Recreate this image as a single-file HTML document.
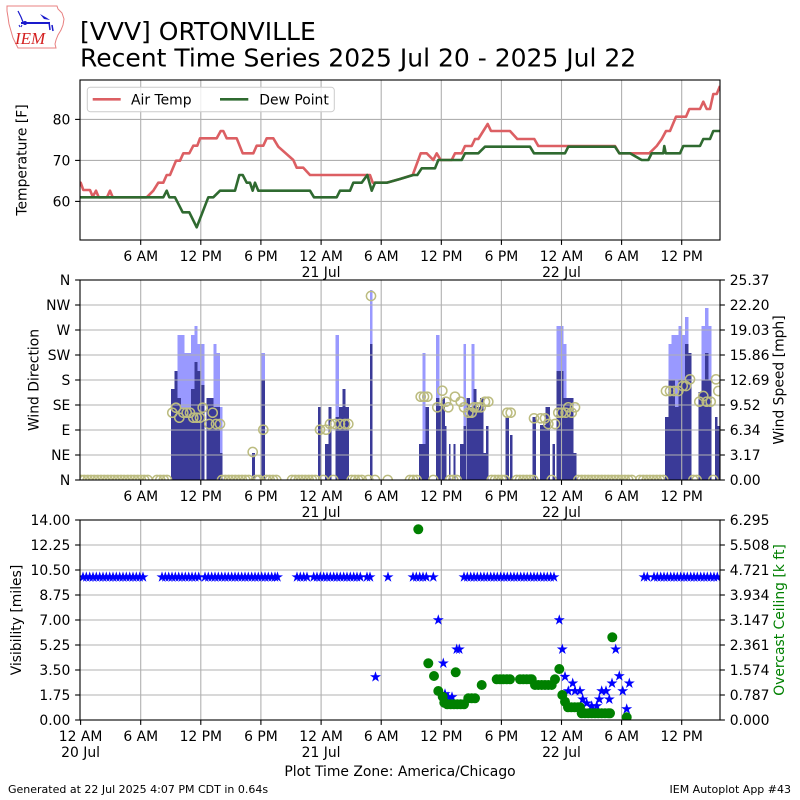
<!DOCTYPE html>
<html>
<head>
<meta charset="utf-8">
<style>
html,body{margin:0;padding:0;background:#fff;}
svg{display:block;}
text{font-family:"DejaVu Sans","Liberation Sans",sans-serif;fill:#000;}
</style>
</head>
<body>
<svg width="800" height="800" viewBox="0 0 800 800" xmlns="http://www.w3.org/2000/svg">
<defs>
  <clipPath id="c1"><rect x="80" y="80" width="640" height="160"/></clipPath>
  <clipPath id="c2"><rect x="80" y="280" width="640" height="200"/></clipPath>
  <clipPath id="c3"><rect x="80" y="520" width="640" height="200"/></clipPath>
  <path id="st" d="M0,-4.8 L1.08,-1.48 L4.56,-1.48 L1.74,0.57 L2.82,3.88 L0,1.83 L-2.82,3.88 L-1.74,0.57 L-4.56,-1.48 L-1.08,-1.48Z" fill="#0000ff" stroke="#0000ff" stroke-width="0.6"/>
  <circle id="oc" r="4.6" fill="none" stroke="#bcbc80" stroke-width="1.5"/>
  <circle id="gc" r="5" fill="#008000"/>
</defs>
<rect width="800" height="800" fill="#fff"/>

<!-- Logo -->
<g>
  <path d="M7,6 L57,6 L58,9 L62,13 L64,19 L63,25 L61,30 L58,35 L56,40 L55,44 L56,48 L18,48 L16,44 L13,38 L11,31 L9,24 L8,17 L7,11Z" fill="none" stroke="#e88080" stroke-width="1"/>
  <line x1="21" y1="23" x2="50" y2="23" stroke="#1a1acc" stroke-width="2"/>
  <circle cx="25" cy="23" r="2" fill="#1a1acc"/>
  <path d="M18,11 L21,17 L23,22" stroke="#1a1acc" stroke-width="1.2" fill="none"/>
  <path d="M40,14 L47,18 L50,20 L44,19Z" fill="#1a1acc"/>
  <path d="M49,22 L50,30 M52,25 L53,31" stroke="#1a1acc" stroke-width="1.5"/>
  <path d="M19,25 L20,27 M22,25 L21,27" stroke="#1a1acc" stroke-width="1"/>
  <text x="15" y="44" font-family="Liberation Serif, serif" font-style="italic" font-size="17" fill="#d42020" style="font-family:'Liberation Serif',serif;fill:#d42020">IEM</text>
</g>

<!-- Titles -->
<text x="80" y="40" font-size="25">[VVV] ORTONVILLE</text>
<text x="80" y="66.7" font-size="25">Recent Time Series 2025 Jul 20 - 2025 Jul 22</text>

<!-- ================= PANEL 1 ================= -->
<g stroke="#b0b0b0" stroke-width="1.1">
  <line x1="80" y1="119.4" x2="720" y2="119.4"/>
  <line x1="80" y1="160.4" x2="720" y2="160.4"/>
  <line x1="80" y1="201.4" x2="720" y2="201.4"/>
  <line x1="140.7" y1="80" x2="140.7" y2="240"/>
  <line x1="200.8" y1="80" x2="200.8" y2="240"/>
  <line x1="260.9" y1="80" x2="260.9" y2="240"/>
  <line x1="321.1" y1="80" x2="321.1" y2="240"/>
  <line x1="381.2" y1="80" x2="381.2" y2="240"/>
  <line x1="441.3" y1="80" x2="441.3" y2="240"/>
  <line x1="501.4" y1="80" x2="501.4" y2="240"/>
  <line x1="561.5" y1="80" x2="561.5" y2="240"/>
  <line x1="621.6" y1="80" x2="621.6" y2="240"/>
  <line x1="681.7" y1="80" x2="681.7" y2="240"/>
</g>
<g clip-path="url(#c1)" fill="none" stroke-width="2.6" stroke-linejoin="round">
  <polyline stroke="#dc5f63" points="80,182.7 80.7,182.7 83.3,190 90,190 92.7,196.7 96,190.7 98.7,197.3 107,197.3 110,190.7 112.7,197.3 146.7,197.3 153.3,190.7 158.3,182.7 163.3,182.7 166.7,175 170,175 176,160.7 180,160.7 183.3,153.3 189.3,153.3 193.3,145.7 197.3,145.7 200,138.3 216.7,138.3 220.7,131 223.3,131 226.7,138.3 236.7,138.3 242.7,153.3 253.3,153.3 256.7,145.7 263.3,145.7 266.7,138.3 273.3,138.3 278.3,146.7 293.3,160 296.7,167.7 303.3,167.7 310,175 370,175 372.7,182.7 386.7,182.7 400,179 412.7,175 420.7,153.3 426.7,153.3 433.3,160 436.7,153.3 440.7,160 451.7,160 455,153.3 461.7,153.3 465,146 471.7,146 475,139 478.3,139 483.3,131 487.7,124 491,131 510,131 517.3,139 534.3,139 538.3,146 615,146 619.3,153.3 649.3,153.3 656.7,146 661.7,139 666,131 670,131 676,116.7 686,116.7 689.3,109 700,109 703.3,101.7 706.7,109 710,109 713.3,94 716.7,94 720,86"/>
  <polyline stroke="#2f6a30" points="80,197.3 163.3,197.3 166.7,190.7 169.3,197.3 175,197.3 182.7,212.3 189.3,212.3 196.7,227.3 208.3,197.3 213.3,197.3 220,190.7 235,190.7 239.3,175 242.7,175 246.7,182.7 250,182.7 252.7,190.7 255,182.7 258.3,190.7 310,190.7 314,197.3 336.7,197.3 340,190.7 350,190.7 353.3,182.7 361.7,182.7 367.3,175 371.7,190.7 375,182.7 386.7,182.7 400,179 413.3,175 417.3,175 421.7,168.3 435,168.3 438.3,160 461.7,160 465,153.3 478.3,153.3 485,146.7 530,146.7 534,153.3 565,153.3 568.3,146.7 615,146.7 619.3,153.3 630,153.3 641.7,160 648.3,160 651.7,153.3 663.3,153.3 664.3,146 665.7,153.3 680,153.3 683.3,146 700,146 703.3,139 710,139 713.3,131 720,131"/>
</g>
<rect x="80" y="80" width="640" height="160" fill="none" stroke="#000" stroke-width="1.1"/>
<!-- legend -->
<rect x="87.3" y="87.3" width="247" height="24.4" rx="3" fill="#fff" fill-opacity="0.8" stroke="#cccccc" stroke-width="1"/>
<line x1="92.7" y1="99.3" x2="120.7" y2="99.3" stroke="#dc5f63" stroke-width="2.6"/>
<text x="131" y="104.3" font-size="13.9">Air Temp</text>
<line x1="220" y1="99.3" x2="248.3" y2="99.3" stroke="#2f6a30" stroke-width="2.6"/>
<text x="259.3" y="104.3" font-size="13.9">Dew Point</text>
<!-- ticks -->
<g stroke="#000" stroke-width="1.1">
  <line x1="75.1" y1="119.4" x2="80" y2="119.4"/>
  <line x1="75.1" y1="160.4" x2="80" y2="160.4"/>
  <line x1="75.1" y1="201.4" x2="80" y2="201.4"/>
  <line x1="140.7" y1="240" x2="140.7" y2="244.9"/>
  <line x1="200.8" y1="240" x2="200.8" y2="244.9"/>
  <line x1="260.9" y1="240" x2="260.9" y2="244.9"/>
  <line x1="321.1" y1="240" x2="321.1" y2="244.9"/>
  <line x1="381.2" y1="240" x2="381.2" y2="244.9"/>
  <line x1="441.3" y1="240" x2="441.3" y2="244.9"/>
  <line x1="501.4" y1="240" x2="501.4" y2="244.9"/>
  <line x1="561.5" y1="240" x2="561.5" y2="244.9"/>
  <line x1="621.6" y1="240" x2="621.6" y2="244.9"/>
  <line x1="681.7" y1="240" x2="681.7" y2="244.9"/>
</g>
<g font-size="13.9" text-anchor="end">
  <text x="70.3" y="124.4">80</text>
  <text x="70.3" y="165.4">70</text>
  <text x="70.3" y="206.4">60</text>
</g>
<g font-size="13.9" text-anchor="middle">
  <text x="140.7" y="261">6 AM</text>
  <text x="200.8" y="261">12 PM</text>
  <text x="260.9" y="261">6 PM</text>
  <text x="321.1" y="261">12 AM</text>
  <text x="321.1" y="277">21 Jul</text>
  <text x="381.2" y="261">6 AM</text>
  <text x="441.3" y="261">12 PM</text>
  <text x="501.4" y="261">6 PM</text>
  <text x="561.5" y="261">12 AM</text>
  <text x="561.5" y="277">22 Jul</text>
  <text x="621.6" y="261">6 AM</text>
  <text x="681.7" y="261">12 PM</text>
</g>
<text transform="translate(26.5,160) rotate(-90)" font-size="13.9" text-anchor="middle">Temperature [F]</text>

<!-- ================= PANEL 2 ================= -->
<g clip-path="url(#c2)">
<g fill="#9999ff" shape-rendering="crispEdges">
  <rect x="177.7" y="335" width="3.4" height="145"/>
  <rect x="181" y="335" width="3.4" height="145"/>
  <rect x="184.3" y="353" width="3.4" height="127"/>
  <rect x="187.7" y="353" width="3.4" height="127"/>
  <rect x="191" y="335" width="3.4" height="145"/>
  <rect x="194.3" y="326" width="3.4" height="154"/>
  <rect x="197.7" y="344" width="3.4" height="136"/>
  <rect x="201" y="344" width="3.3" height="136"/>
  <rect x="213.3" y="344" width="3.4" height="136"/>
  <rect x="216.7" y="353" width="3.4" height="127"/>
  <rect x="220" y="407" width="2.7" height="73"/>
  <rect x="261.7" y="353" width="3.3" height="127"/>
  <rect x="335.7" y="335" width="3.3" height="145"/>
  <rect x="370" y="290" width="2.7" height="190"/>
  <rect x="422.3" y="353" width="3.4" height="127"/>
  <rect x="436" y="335" width="3.3" height="145"/>
  <rect x="463.3" y="344" width="2.5" height="136"/>
  <rect x="471.7" y="344" width="2.6" height="136"/>
  <rect x="556.7" y="326" width="6.7" height="154"/>
  <rect x="563.3" y="344" width="3.4" height="136"/>
  <rect x="668.3" y="344" width="3.4" height="136"/>
  <rect x="671.7" y="335" width="3.4" height="145"/>
  <rect x="675" y="335" width="3.4" height="145"/>
  <rect x="678.3" y="326" width="3.4" height="154"/>
  <rect x="681.7" y="335" width="3.4" height="145"/>
  <rect x="685" y="317" width="3.4" height="163"/>
  <rect x="701.7" y="326" width="3.4" height="154"/>
  <rect x="705" y="308" width="3.4" height="172"/>
  <rect x="708.3" y="326" width="3.4" height="154"/>
</g>
<g fill="#3a3a98" shape-rendering="crispEdges">
  <rect x="171" y="389" width="3.4" height="91"/>
  <rect x="174.3" y="371" width="3.4" height="109"/>
  <rect x="177.7" y="398" width="3.4" height="82"/>
  <rect x="181" y="408" width="3.4" height="72"/>
  <rect x="184.3" y="408" width="3.4" height="72"/>
  <rect x="187.7" y="408" width="3.4" height="72"/>
  <rect x="191" y="389" width="3.4" height="91"/>
  <rect x="194.3" y="362" width="3.4" height="118"/>
  <rect x="197.7" y="371" width="3.4" height="109"/>
  <rect x="201" y="385" width="3.3" height="95"/>
  <rect x="206.7" y="398" width="3.4" height="82"/>
  <rect x="210" y="398" width="3.4" height="82"/>
  <rect x="213.3" y="407" width="3.4" height="73"/>
  <rect x="216.7" y="407" width="3.4" height="73"/>
  <rect x="220" y="453" width="2.7" height="27"/>
  <rect x="252" y="453" width="3" height="27"/>
  <rect x="261.7" y="380" width="3.3" height="100"/>
  <rect x="318" y="407" width="3.3" height="73"/>
  <rect x="325" y="444" width="3.4" height="36"/>
  <rect x="328.3" y="407" width="3.4" height="73"/>
  <rect x="335.7" y="417" width="3.4" height="63"/>
  <rect x="339" y="407" width="3.4" height="73"/>
  <rect x="342.3" y="389" width="3.4" height="91"/>
  <rect x="345.7" y="407" width="3.3" height="73"/>
  <rect x="370" y="344" width="2.7" height="136"/>
  <rect x="419" y="444" width="3.4" height="36"/>
  <rect x="422.3" y="444" width="3.4" height="36"/>
  <rect x="425.7" y="407" width="3.3" height="73"/>
  <rect x="436" y="398" width="3.4" height="82"/>
  <rect x="439.3" y="406" width="3.4" height="74"/>
  <rect x="442.7" y="398" width="2.4" height="82"/>
  <rect x="445" y="426" width="1.7" height="54"/>
  <rect x="449" y="444" width="1.7" height="36"/>
  <rect x="453.3" y="444" width="2.4" height="36"/>
  <rect x="460" y="444" width="3.4" height="36"/>
  <rect x="463.3" y="426" width="2.5" height="54"/>
  <rect x="466.7" y="398" width="3.4" height="82"/>
  <rect x="470" y="407" width="1.8" height="73"/>
  <rect x="471.7" y="417" width="1.7" height="63"/>
  <rect x="473.3" y="389" width="3.4" height="91"/>
  <rect x="476.7" y="407" width="3.4" height="73"/>
  <rect x="480" y="398" width="3.4" height="82"/>
  <rect x="483.3" y="453" width="2.8" height="27"/>
  <rect x="486" y="426" width="2.7" height="54"/>
  <rect x="505.7" y="417" width="3.3" height="63"/>
  <rect x="510" y="435" width="2.3" height="45"/>
  <rect x="532.7" y="417" width="3.3" height="63"/>
  <rect x="540" y="425" width="5.8" height="55"/>
  <rect x="545.7" y="407" width="4.3" height="73"/>
  <rect x="552.7" y="444" width="2.3" height="36"/>
  <rect x="556.7" y="371" width="3.4" height="109"/>
  <rect x="560" y="371" width="3.4" height="109"/>
  <rect x="563.3" y="398" width="3.4" height="82"/>
  <rect x="566.7" y="398" width="3.4" height="82"/>
  <rect x="570" y="398" width="3.4" height="82"/>
  <rect x="573.3" y="453" width="3.4" height="27"/>
  <rect x="665" y="417" width="3.4" height="63"/>
  <rect x="668.3" y="380" width="3.4" height="100"/>
  <rect x="671.7" y="380" width="3.4" height="100"/>
  <rect x="675" y="407" width="3.4" height="73"/>
  <rect x="678.3" y="380" width="3.4" height="100"/>
  <rect x="681.7" y="380" width="3.4" height="100"/>
  <rect x="685" y="344" width="3.4" height="136"/>
  <rect x="688.3" y="353" width="3.4" height="127"/>
  <rect x="698.3" y="392" width="3.4" height="88"/>
  <rect x="701.7" y="380" width="3.4" height="100"/>
  <rect x="705" y="353" width="3.4" height="127"/>
  <rect x="708.3" y="380" width="3.4" height="100"/>
  <rect x="715" y="417" width="2.4" height="63"/>
  <rect x="717.3" y="426" width="2.7" height="54"/>
</g>
</g>
<g stroke="#b0b0b0" stroke-width="1.1">
  <line x1="80" y1="305" x2="720" y2="305"/>
  <line x1="80" y1="330" x2="720" y2="330"/>
  <line x1="80" y1="355" x2="720" y2="355"/>
  <line x1="80" y1="380" x2="720" y2="380"/>
  <line x1="80" y1="405" x2="720" y2="405"/>
  <line x1="80" y1="430" x2="720" y2="430"/>
  <line x1="80" y1="455" x2="720" y2="455"/>
  <line x1="140.7" y1="280" x2="140.7" y2="480"/>
  <line x1="200.8" y1="280" x2="200.8" y2="480"/>
  <line x1="260.9" y1="280" x2="260.9" y2="480"/>
  <line x1="321.1" y1="280" x2="321.1" y2="480"/>
  <line x1="381.2" y1="280" x2="381.2" y2="480"/>
  <line x1="441.3" y1="280" x2="441.3" y2="480"/>
  <line x1="501.4" y1="280" x2="501.4" y2="480"/>
  <line x1="561.5" y1="280" x2="561.5" y2="480"/>
  <line x1="621.6" y1="280" x2="621.6" y2="480"/>
  <line x1="681.7" y1="280" x2="681.7" y2="480"/>
</g>
<g clip-path="url(#c2)">
  <!-- non-zero direction -->
  <use href="#oc" x="172.3" y="412.7"/><use href="#oc" x="176" y="407.7"/><use href="#oc" x="179.3" y="417.7"/>
  <use href="#oc" x="183.3" y="412.7"/><use href="#oc" x="186.7" y="412.7"/><use href="#oc" x="190" y="412.7"/>
  <use href="#oc" x="193.3" y="417.7"/><use href="#oc" x="196.7" y="417.7"/><use href="#oc" x="200" y="417.7"/>
  <use href="#oc" x="202.7" y="407.7"/><use href="#oc" x="209.3" y="424"/><use href="#oc" x="212.7" y="412.7"/>
  <use href="#oc" x="216" y="424"/><use href="#oc" x="220" y="424"/><use href="#oc" x="252.7" y="452"/>
  <use href="#oc" x="263.3" y="429.7"/><use href="#oc" x="320" y="429.7"/><use href="#oc" x="326" y="429.7"/>
  <use href="#oc" x="330" y="424"/><use href="#oc" x="335" y="424"/><use href="#oc" x="340" y="424"/>
  <use href="#oc" x="345" y="424"/><use href="#oc" x="348.3" y="424"/><use href="#oc" x="371" y="296"/>
  <use href="#oc" x="420.7" y="396.7"/><use href="#oc" x="424" y="396.7"/><use href="#oc" x="427.3" y="396.7"/>
  <use href="#oc" x="437.3" y="407.3"/><use href="#oc" x="442.3" y="390.7"/><use href="#oc" x="446" y="401.7"/>
  <use href="#oc" x="448.3" y="407.3"/><use href="#oc" x="455" y="396.7"/><use href="#oc" x="460.7" y="401.7"/>
  <use href="#oc" x="464" y="407.3"/><use href="#oc" x="468.3" y="412.7"/><use href="#oc" x="471.7" y="412.7"/>
  <use href="#oc" x="474" y="407.3"/><use href="#oc" x="477.3" y="407.3"/><use href="#oc" x="480.7" y="407.3"/>
  <use href="#oc" x="485" y="401.7"/><use href="#oc" x="488.3" y="401.7"/><use href="#oc" x="507.3" y="412.7"/>
  <use href="#oc" x="510.7" y="412.7"/><use href="#oc" x="534" y="418.3"/><use href="#oc" x="540.7" y="418.3"/>
  <use href="#oc" x="545" y="418.3"/><use href="#oc" x="548.3" y="424"/><use href="#oc" x="555" y="424"/>
  <use href="#oc" x="558.3" y="412.7"/><use href="#oc" x="561.7" y="412.7"/><use href="#oc" x="565.7" y="412.7"/>
  <use href="#oc" x="568.3" y="407.3"/><use href="#oc" x="571.7" y="412.7"/><use href="#oc" x="575" y="407.3"/>
  <use href="#oc" x="666" y="391"/><use href="#oc" x="670" y="391"/><use href="#oc" x="674" y="391"/>
  <use href="#oc" x="678.3" y="391"/><use href="#oc" x="682.7" y="386"/><use href="#oc" x="686" y="386"/>
  <use href="#oc" x="690" y="379.3"/><use href="#oc" x="699.3" y="401.7"/><use href="#oc" x="703.3" y="396"/>
  <use href="#oc" x="706.7" y="401.7"/><use href="#oc" x="710.7" y="401.7"/><use href="#oc" x="716" y="379.3"/>
  <use href="#oc" x="718.3" y="391"/>
  <!-- calm (N) -->
  <g transform="translate(0,480)">
  <use href="#oc" x="81"/><use href="#oc" x="84.3"/><use href="#oc" x="87.7"/><use href="#oc" x="91"/><use href="#oc" x="94.3"/><use href="#oc" x="97.7"/><use href="#oc" x="101"/><use href="#oc" x="104.3"/><use href="#oc" x="107.7"/><use href="#oc" x="111"/><use href="#oc" x="114.3"/><use href="#oc" x="117.7"/><use href="#oc" x="121"/><use href="#oc" x="124.3"/><use href="#oc" x="127.7"/><use href="#oc" x="131"/><use href="#oc" x="134.3"/><use href="#oc" x="137.7"/><use href="#oc" x="141"/><use href="#oc" x="144.3"/><use href="#oc" x="147.7"/>
  <use href="#oc" x="157"/><use href="#oc" x="160.3"/><use href="#oc" x="163.7"/><use href="#oc" x="167"/>
  <use href="#oc" x="222"/><use href="#oc" x="225.3"/><use href="#oc" x="228.7"/><use href="#oc" x="232"/><use href="#oc" x="235.3"/><use href="#oc" x="238.7"/><use href="#oc" x="242"/><use href="#oc" x="245.3"/><use href="#oc" x="248.7"/><use href="#oc" x="256"/><use href="#oc" x="259"/><use href="#oc" x="266.5"/><use href="#oc" x="269.7"/><use href="#oc" x="273"/><use href="#oc" x="276.3"/>
  <use href="#oc" x="292"/><use href="#oc" x="295.3"/><use href="#oc" x="298.7"/><use href="#oc" x="302"/><use href="#oc" x="305.3"/><use href="#oc" x="308.7"/><use href="#oc" x="312"/><use href="#oc" x="315.3"/><use href="#oc" x="323.3"/>
  <use href="#oc" x="333.3"/><use href="#oc" x="351.7"/><use href="#oc" x="355"/><use href="#oc" x="358.3"/><use href="#oc" x="361.7"/><use href="#oc" x="368.3"/><use href="#oc" x="375"/><use href="#oc" x="387.7"/>
  <use href="#oc" x="410"/><use href="#oc" x="413.3"/><use href="#oc" x="416.7"/><use href="#oc" x="433.3"/><use href="#oc" x="450"/><use href="#oc" x="453.3"/><use href="#oc" x="456.7"/>
  <use href="#oc" x="491.7"/><use href="#oc" x="495"/><use href="#oc" x="498.3"/><use href="#oc" x="501.7"/><use href="#oc" x="505"/>
  <use href="#oc" x="516.7"/><use href="#oc" x="520"/><use href="#oc" x="523.3"/><use href="#oc" x="526.7"/><use href="#oc" x="530"/><use href="#oc" x="533.3"/><use href="#oc" x="551.7"/>
  <use href="#oc" x="578.3"/><use href="#oc" x="581.7"/><use href="#oc" x="585"/><use href="#oc" x="588.3"/><use href="#oc" x="591.7"/><use href="#oc" x="595"/><use href="#oc" x="598.3"/><use href="#oc" x="601.7"/><use href="#oc" x="605"/><use href="#oc" x="608.3"/><use href="#oc" x="611.7"/><use href="#oc" x="615"/><use href="#oc" x="618.3"/><use href="#oc" x="621.7"/><use href="#oc" x="625"/><use href="#oc" x="628.3"/><use href="#oc" x="631.7"/>
  <use href="#oc" x="640"/><use href="#oc" x="643.3"/><use href="#oc" x="646.7"/><use href="#oc" x="650"/><use href="#oc" x="653.3"/><use href="#oc" x="656.7"/><use href="#oc" x="660"/><use href="#oc" x="663.3"/>
  <use href="#oc" x="693.3"/><use href="#oc" x="696.7"/><use href="#oc" x="713.3"/>
  </g>
</g>
<rect x="80" y="280" width="640" height="200" fill="none" stroke="#000" stroke-width="1.1"/>
<g stroke="#000" stroke-width="1.1">
  <line x1="75.1" y1="280" x2="80" y2="280"/><line x1="75.1" y1="305" x2="80" y2="305"/><line x1="75.1" y1="330" x2="80" y2="330"/>
  <line x1="75.1" y1="355" x2="80" y2="355"/><line x1="75.1" y1="380" x2="80" y2="380"/><line x1="75.1" y1="405" x2="80" y2="405"/>
  <line x1="75.1" y1="430" x2="80" y2="430"/><line x1="75.1" y1="455" x2="80" y2="455"/><line x1="75.1" y1="480" x2="80" y2="480"/>
  <line x1="720" y1="280" x2="724.9" y2="280"/><line x1="720" y1="305" x2="724.9" y2="305"/><line x1="720" y1="330" x2="724.9" y2="330"/>
  <line x1="720" y1="355" x2="724.9" y2="355"/><line x1="720" y1="380" x2="724.9" y2="380"/><line x1="720" y1="405" x2="724.9" y2="405"/>
  <line x1="720" y1="430" x2="724.9" y2="430"/><line x1="720" y1="455" x2="724.9" y2="455"/><line x1="720" y1="480" x2="724.9" y2="480"/>
  <line x1="140.7" y1="480" x2="140.7" y2="484.9"/><line x1="200.8" y1="480" x2="200.8" y2="484.9"/><line x1="260.9" y1="480" x2="260.9" y2="484.9"/>
  <line x1="321.1" y1="480" x2="321.1" y2="484.9"/><line x1="381.2" y1="480" x2="381.2" y2="484.9"/><line x1="441.3" y1="480" x2="441.3" y2="484.9"/>
  <line x1="501.4" y1="480" x2="501.4" y2="484.9"/><line x1="561.5" y1="480" x2="561.5" y2="484.9"/><line x1="621.6" y1="480" x2="621.6" y2="484.9"/>
  <line x1="681.7" y1="480" x2="681.7" y2="484.9"/>
</g>
<g font-size="13.9" text-anchor="end">
  <text x="70.3" y="285">N</text><text x="70.3" y="310">NW</text><text x="70.3" y="335">W</text>
  <text x="70.3" y="360">SW</text><text x="70.3" y="385">S</text><text x="70.3" y="410">SE</text>
  <text x="70.3" y="435">E</text><text x="70.3" y="460">NE</text><text x="70.3" y="485">N</text>
</g>
<g font-size="13.9">
  <text x="729.7" y="285">25.37</text><text x="729.7" y="310">22.20</text><text x="729.7" y="335">19.03</text>
  <text x="729.7" y="360">15.86</text><text x="729.7" y="385">12.69</text><text x="729.7" y="410">9.52</text>
  <text x="729.7" y="435">6.34</text><text x="729.7" y="460">3.17</text><text x="729.7" y="485">0.00</text>
</g>
<g font-size="13.9" text-anchor="middle">
  <text x="140.7" y="501">6 AM</text>
  <text x="200.8" y="501">12 PM</text>
  <text x="260.9" y="501">6 PM</text>
  <text x="321.1" y="501">12 AM</text>
  <text x="321.1" y="517">21 Jul</text>
  <text x="381.2" y="501">6 AM</text>
  <text x="441.3" y="501">12 PM</text>
  <text x="501.4" y="501">6 PM</text>
  <text x="561.5" y="501">12 AM</text>
  <text x="561.5" y="517">22 Jul</text>
  <text x="621.6" y="501">6 AM</text>
  <text x="681.7" y="501">12 PM</text>
</g>
<text transform="translate(38.3,380) rotate(-90)" font-size="13.9" text-anchor="middle">Wind Direction</text>
<text transform="translate(783.5,380) rotate(-90)" font-size="13.9" text-anchor="middle">Wind Speed [mph]</text>

<!-- ================= PANEL 3 ================= -->
<g stroke="#b0b0b0" stroke-width="1.1">
  <line x1="80" y1="545" x2="720" y2="545"/>
  <line x1="80" y1="570" x2="720" y2="570"/>
  <line x1="80" y1="595" x2="720" y2="595"/>
  <line x1="80" y1="620" x2="720" y2="620"/>
  <line x1="80" y1="645" x2="720" y2="645"/>
  <line x1="80" y1="670" x2="720" y2="670"/>
  <line x1="80" y1="695" x2="720" y2="695"/>
  <line x1="140.7" y1="520" x2="140.7" y2="720"/>
  <line x1="200.8" y1="520" x2="200.8" y2="720"/>
  <line x1="260.9" y1="520" x2="260.9" y2="720"/>
  <line x1="321.1" y1="520" x2="321.1" y2="720"/>
  <line x1="381.2" y1="520" x2="381.2" y2="720"/>
  <line x1="441.3" y1="520" x2="441.3" y2="720"/>
  <line x1="501.4" y1="520" x2="501.4" y2="720"/>
  <line x1="561.5" y1="520" x2="561.5" y2="720"/>
  <line x1="621.6" y1="520" x2="621.6" y2="720"/>
  <line x1="681.7" y1="520" x2="681.7" y2="720"/>
</g>
<g clip-path="url(#c3)">
  <g transform="translate(0,577.1)">
  <use href="#st" x="83"/><use href="#st" x="86.3"/><use href="#st" x="89.7"/><use href="#st" x="93"/><use href="#st" x="96.3"/><use href="#st" x="99.7"/><use href="#st" x="103"/><use href="#st" x="106.3"/><use href="#st" x="109.7"/><use href="#st" x="113"/><use href="#st" x="116.3"/><use href="#st" x="119.7"/><use href="#st" x="123"/><use href="#st" x="126.3"/><use href="#st" x="129.7"/><use href="#st" x="133"/><use href="#st" x="136.3"/><use href="#st" x="139.7"/><use href="#st" x="143"/>
  <use href="#st" x="162"/><use href="#st" x="165.3"/><use href="#st" x="168.7"/><use href="#st" x="172"/><use href="#st" x="175.3"/><use href="#st" x="178.7"/><use href="#st" x="182"/><use href="#st" x="185.3"/><use href="#st" x="188.7"/><use href="#st" x="192"/><use href="#st" x="195.3"/><use href="#st" x="198.7"/><use href="#st" x="205"/><use href="#st" x="208.3"/><use href="#st" x="211.7"/><use href="#st" x="215"/><use href="#st" x="218.3"/><use href="#st" x="221.7"/><use href="#st" x="225"/><use href="#st" x="228.3"/><use href="#st" x="231.7"/><use href="#st" x="235"/><use href="#st" x="238.3"/><use href="#st" x="241.7"/><use href="#st" x="245"/><use href="#st" x="248.3"/><use href="#st" x="251.7"/><use href="#st" x="255"/><use href="#st" x="258.3"/><use href="#st" x="261.7"/><use href="#st" x="265"/><use href="#st" x="268.3"/><use href="#st" x="271.7"/><use href="#st" x="275"/><use href="#st" x="277.5"/>
  <use href="#st" x="297"/><use href="#st" x="300.3"/><use href="#st" x="303.7"/><use href="#st" x="307"/><use href="#st" x="313.7"/><use href="#st" x="317"/><use href="#st" x="320.3"/><use href="#st" x="323.7"/><use href="#st" x="327"/><use href="#st" x="330.3"/><use href="#st" x="333.7"/><use href="#st" x="337"/><use href="#st" x="340.3"/><use href="#st" x="343.7"/><use href="#st" x="347"/><use href="#st" x="350.3"/><use href="#st" x="353.7"/><use href="#st" x="357"/><use href="#st" x="360.3"/><use href="#st" x="367"/><use href="#st" x="370"/>
  <use href="#st" x="388"/>
  <use href="#st" x="413"/><use href="#st" x="416.3"/><use href="#st" x="419.7"/><use href="#st" x="423"/><use href="#st" x="426.3"/><use href="#st" x="433.3"/>
  <use href="#st" x="464"/><use href="#st" x="467.3"/><use href="#st" x="470.7"/><use href="#st" x="474"/><use href="#st" x="477.3"/><use href="#st" x="480.7"/><use href="#st" x="484"/><use href="#st" x="487.3"/><use href="#st" x="490.7"/><use href="#st" x="494"/><use href="#st" x="497.3"/><use href="#st" x="500.7"/><use href="#st" x="504"/><use href="#st" x="507.3"/><use href="#st" x="510.7"/><use href="#st" x="514"/><use href="#st" x="517.3"/><use href="#st" x="520.7"/><use href="#st" x="524"/><use href="#st" x="527.3"/><use href="#st" x="530.7"/><use href="#st" x="534"/><use href="#st" x="537.3"/><use href="#st" x="540.7"/><use href="#st" x="544"/><use href="#st" x="547.3"/><use href="#st" x="550.7"/><use href="#st" x="554"/>
  <use href="#st" x="644"/><use href="#st" x="647.3"/><use href="#st" x="654"/><use href="#st" x="657.3"/><use href="#st" x="660.7"/><use href="#st" x="664"/><use href="#st" x="667.3"/><use href="#st" x="670.7"/><use href="#st" x="674"/><use href="#st" x="677.3"/><use href="#st" x="680.7"/><use href="#st" x="684"/><use href="#st" x="687.3"/><use href="#st" x="690.7"/><use href="#st" x="694"/><use href="#st" x="697.3"/><use href="#st" x="700.7"/><use href="#st" x="704"/><use href="#st" x="707.3"/><use href="#st" x="710.7"/><use href="#st" x="714"/><use href="#st" x="717.3"/>
  </g>
  <!-- other stars -->
  <use href="#st" x="375.5" y="677"/>
  <use href="#st" x="438.3" y="620"/><use href="#st" x="443.3" y="663.3"/><use href="#st" x="445" y="694"/>
  <use href="#st" x="448" y="697"/><use href="#st" x="452" y="697"/>
  <use href="#st" x="456.7" y="649.3"/><use href="#st" x="459.3" y="649.3"/>
  <use href="#st" x="559.3" y="620"/><use href="#st" x="562.3" y="649.3"/><use href="#st" x="565" y="676.7"/>
  <use href="#st" x="568.3" y="691"/><use href="#st" x="572.7" y="683.3"/><use href="#st" x="575" y="691"/>
  <use href="#st" x="580" y="691"/><use href="#st" x="582.7" y="699.3"/><use href="#st" x="586.7" y="703.3"/>
  <use href="#st" x="591.7" y="706"/><use href="#st" x="596.7" y="706"/><use href="#st" x="599.3" y="699.3"/>
  <use href="#st" x="601.7" y="691"/><use href="#st" x="606" y="691"/><use href="#st" x="609.3" y="699.3"/>
  <use href="#st" x="612" y="683.3"/><use href="#st" x="615.7" y="649.3"/><use href="#st" x="619.3" y="676"/>
  <use href="#st" x="622.7" y="691"/><use href="#st" x="626.7" y="709"/><use href="#st" x="629.3" y="683.3"/>
  <!-- ceiling -->
  <use href="#gc" x="418.3" y="529.3"/><use href="#gc" x="428.3" y="663.3"/><use href="#gc" x="434" y="676"/>
  <use href="#gc" x="438.3" y="691"/><use href="#gc" x="442.7" y="696.7"/><use href="#gc" x="444.3" y="702.7"/>
  <use href="#gc" x="447.3" y="704.3"/><use href="#gc" x="450.7" y="704.3"/><use href="#gc" x="454" y="704.3"/>
  <use href="#gc" x="457.3" y="704.3"/><use href="#gc" x="460.7" y="704.3"/><use href="#gc" x="464" y="704.3"/>
  <use href="#gc" x="455.7" y="672.3"/><use href="#gc" x="468.3" y="698.3"/><use href="#gc" x="471.7" y="698.3"/>
  <use href="#gc" x="475" y="698.3"/><use href="#gc" x="481.7" y="685"/>
  <use href="#gc" x="496.7" y="679.3"/><use href="#gc" x="500" y="679.3"/><use href="#gc" x="503.3" y="679.3"/><use href="#gc" x="506.7" y="679.3"/><use href="#gc" x="510" y="679.3"/>
  <use href="#gc" x="520" y="679.3"/><use href="#gc" x="523.3" y="679.3"/><use href="#gc" x="526.7" y="679.3"/><use href="#gc" x="530" y="679.3"/><use href="#gc" x="531.7" y="679.3"/>
  <use href="#gc" x="535" y="685"/><use href="#gc" x="538.3" y="685"/><use href="#gc" x="541.7" y="685"/><use href="#gc" x="545" y="685"/><use href="#gc" x="548.3" y="685"/><use href="#gc" x="551.7" y="685"/>
  <use href="#gc" x="555" y="679.3"/><use href="#gc" x="559.3" y="669"/><use href="#gc" x="562.3" y="695"/>
  <use href="#gc" x="565" y="701.7"/><use href="#gc" x="568" y="707.3"/><use href="#gc" x="571.3" y="707.3"/>
  <use href="#gc" x="574.7" y="707.3"/><use href="#gc" x="578" y="707.3"/><use href="#gc" x="580" y="707.3"/>
  <use href="#gc" x="581.7" y="713.3"/><use href="#gc" x="585" y="713.3"/><use href="#gc" x="588.3" y="713.3"/>
  <use href="#gc" x="591.7" y="713.3"/><use href="#gc" x="595" y="713.3"/><use href="#gc" x="598.3" y="713.3"/>
  <use href="#gc" x="601.7" y="713.3"/><use href="#gc" x="605" y="713.3"/><use href="#gc" x="608.3" y="713.3"/>
  <use href="#gc" x="610" y="713.3"/><use href="#gc" x="612.3" y="637.3"/><use href="#gc" x="626.7" y="717.3"/>
</g>
<rect x="80" y="520" width="640" height="200" fill="none" stroke="#000" stroke-width="1.1"/>
<g stroke="#000" stroke-width="1.1">
  <line x1="75.1" y1="520" x2="80" y2="520"/><line x1="75.1" y1="545" x2="80" y2="545"/><line x1="75.1" y1="570" x2="80" y2="570"/>
  <line x1="75.1" y1="595" x2="80" y2="595"/><line x1="75.1" y1="620" x2="80" y2="620"/><line x1="75.1" y1="645" x2="80" y2="645"/>
  <line x1="75.1" y1="670" x2="80" y2="670"/><line x1="75.1" y1="695" x2="80" y2="695"/><line x1="75.1" y1="720" x2="80" y2="720"/>
  <line x1="720" y1="520" x2="724.9" y2="520"/><line x1="720" y1="545" x2="724.9" y2="545"/><line x1="720" y1="570" x2="724.9" y2="570"/>
  <line x1="720" y1="595" x2="724.9" y2="595"/><line x1="720" y1="620" x2="724.9" y2="620"/><line x1="720" y1="645" x2="724.9" y2="645"/>
  <line x1="720" y1="670" x2="724.9" y2="670"/><line x1="720" y1="695" x2="724.9" y2="695"/><line x1="720" y1="720" x2="724.9" y2="720"/>
  <line x1="80.6" y1="720" x2="80.6" y2="724.9"/>
  <line x1="140.7" y1="720" x2="140.7" y2="724.9"/><line x1="200.8" y1="720" x2="200.8" y2="724.9"/><line x1="260.9" y1="720" x2="260.9" y2="724.9"/>
  <line x1="321.1" y1="720" x2="321.1" y2="724.9"/><line x1="381.2" y1="720" x2="381.2" y2="724.9"/><line x1="441.3" y1="720" x2="441.3" y2="724.9"/>
  <line x1="501.4" y1="720" x2="501.4" y2="724.9"/><line x1="561.5" y1="720" x2="561.5" y2="724.9"/><line x1="621.6" y1="720" x2="621.6" y2="724.9"/>
  <line x1="681.7" y1="720" x2="681.7" y2="724.9"/>
</g>
<g font-size="13.9" text-anchor="end">
  <text x="70.3" y="525">14.00</text><text x="70.3" y="550">12.25</text><text x="70.3" y="575">10.50</text>
  <text x="70.3" y="600">8.75</text><text x="70.3" y="625">7.00</text><text x="70.3" y="650">5.25</text>
  <text x="70.3" y="675">3.50</text><text x="70.3" y="700">1.75</text><text x="70.3" y="725">0.00</text>
</g>
<g font-size="13.9">
  <text x="729.7" y="525">6.295</text><text x="729.7" y="550">5.508</text><text x="729.7" y="575">4.721</text>
  <text x="729.7" y="600">3.934</text><text x="729.7" y="625">3.147</text><text x="729.7" y="650">2.361</text>
  <text x="729.7" y="675">1.574</text><text x="729.7" y="700">0.787</text><text x="729.7" y="725">0.000</text>
</g>
<g font-size="13.9" text-anchor="middle">
  <text x="80.6" y="741">12 AM</text>
  <text x="80.6" y="757">20 Jul</text>
  <text x="140.7" y="741">6 AM</text>
  <text x="200.8" y="741">12 PM</text>
  <text x="260.9" y="741">6 PM</text>
  <text x="321.1" y="741">12 AM</text>
  <text x="321.1" y="757">21 Jul</text>
  <text x="381.2" y="741">6 AM</text>
  <text x="441.3" y="741">12 PM</text>
  <text x="501.4" y="741">6 PM</text>
  <text x="561.5" y="741">12 AM</text>
  <text x="561.5" y="757">22 Jul</text>
  <text x="621.6" y="741">6 AM</text>
  <text x="681.7" y="741">12 PM</text>
  <text x="400" y="776">Plot Time Zone: America/Chicago</text>
</g>
<text transform="translate(21,620) rotate(-90)" font-size="13.9" text-anchor="middle">Visibility [miles]</text>
<text transform="translate(784,620) rotate(-90)" font-size="13.9" text-anchor="middle" style="fill:#008000">Overcast Ceiling [k ft]</text>

<!-- footer -->
<text x="8" y="793" font-size="11">Generated at 22 Jul 2025 4:07 PM CDT in 0.64s</text>
<text x="791" y="793" font-size="11" text-anchor="end">IEM Autoplot App #43</text>
</svg>
</body>
</html>
